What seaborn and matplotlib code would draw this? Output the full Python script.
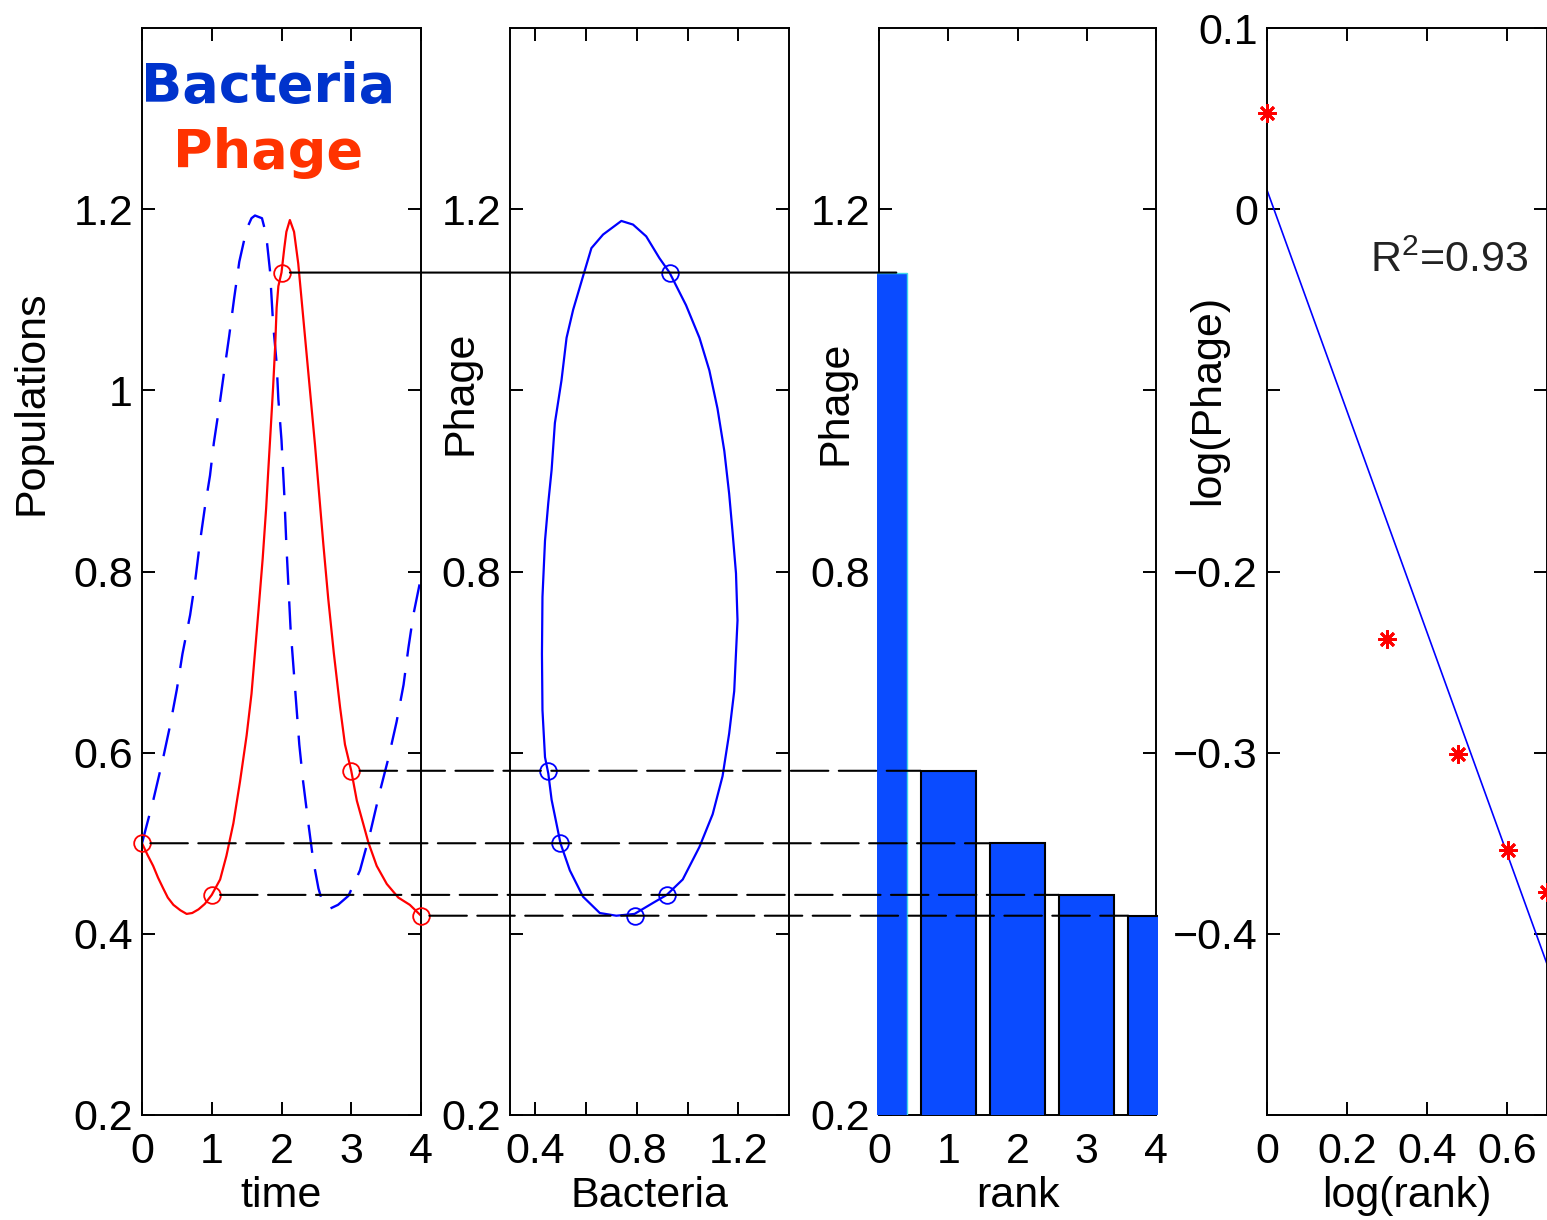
import numpy as np
import pandas as pd
import matplotlib
matplotlib.use("Agg")
import matplotlib.pyplot as plt
import seaborn as sns
from matplotlib.patches import ConnectionPatch, Rectangle

# ---------------- data ----------------
t_bact = [0.00, 0.16, 0.30, 0.40, 0.50, 0.58, 0.69, 0.76, 0.83, 0.90, 0.975, 1.03, 1.11,
          1.18, 1.25, 1.32, 1.395, 1.50, 1.57, 1.62, 1.72, 1.78, 1.835, 1.88, 1.93, 1.955,
          2.00, 2.04, 2.07, 2.10, 2.13, 2.17, 2.22, 2.255, 2.31, 2.385, 2.455, 2.53, 2.60,
          2.70, 2.81, 2.96, 3.125, 3.27, 3.41, 3.53, 3.65, 3.75, 3.82, 3.89, 3.985, 4.00]
bact = [0.500, 0.547, 0.593, 0.629, 0.670, 0.709, 0.752, 0.788, 0.832, 0.870, 0.906, 0.942, 0.983,
        1.022, 1.060, 1.101, 1.142, 1.178, 1.190, 1.193, 1.190, 1.172, 1.132, 1.073, 1.030, 0.990,
        0.945, 0.885, 0.829, 0.783, 0.737, 0.696, 0.645, 0.609, 0.568, 0.522, 0.481, 0.450, 0.432,
        0.428, 0.432, 0.442, 0.470, 0.511, 0.557, 0.593, 0.634, 0.675, 0.716, 0.752, 0.788, 0.795]

t_phage = [0.00, 0.08, 0.16, 0.23, 0.305, 0.37, 0.45, 0.55, 0.64, 0.72, 0.81, 0.90, 1.00, 1.12,
           1.21, 1.31, 1.405, 1.50, 1.57, 1.62, 1.67, 1.73, 1.78, 1.81, 1.845, 1.88, 1.91, 1.93,
           1.955, 2.00, 2.04, 2.07, 2.12, 2.18, 2.24, 2.30, 2.36, 2.42, 2.48, 2.54, 2.60, 2.67,
           2.75, 2.84, 2.91, 3.00, 3.08, 3.17, 3.245, 3.365, 3.51, 3.675, 3.84, 4.00]
phage = [0.500, 0.487, 0.475, 0.462, 0.450, 0.440, 0.432, 0.426, 0.422, 0.423, 0.427, 0.433, 0.443, 0.460,
         0.486, 0.522, 0.568, 0.619, 0.665, 0.711, 0.757, 0.814, 0.870, 0.911, 0.957, 1.004, 1.050, 1.091,
         1.115, 1.130, 1.157, 1.175, 1.188, 1.175, 1.140, 1.090, 1.040, 0.990, 0.940, 0.885, 0.830, 0.770,
         0.710, 0.650, 0.609, 0.580, 0.547, 0.522, 0.501, 0.475, 0.455, 0.440, 0.432, 0.420]

loop_bact = [0.499, 0.536, 0.588, 0.654, 0.719, 0.791, 0.863, 0.918, 0.981, 1.047, 1.099, 1.138,
             1.164, 1.184, 1.197, 1.191, 1.177, 1.164, 1.145, 1.118, 1.086, 1.047, 0.994, 0.929,
             0.889, 0.837, 0.785, 0.739, 0.667, 0.621, 0.588, 0.549, 0.523, 0.503, 0.477, 0.464,
             0.451, 0.438, 0.428, 0.426, 0.428, 0.438, 0.451, 0.464, 0.499]
loop_phage = [0.500, 0.470, 0.441, 0.423, 0.420, 0.422, 0.434, 0.443, 0.460, 0.496, 0.532, 0.574,
              0.621, 0.668, 0.746, 0.798, 0.845, 0.886, 0.933, 0.980, 1.022, 1.058, 1.094, 1.130,
              1.146, 1.170, 1.183, 1.187, 1.172, 1.157, 1.126, 1.089, 1.058, 1.011, 0.964, 0.912,
              0.876, 0.834, 0.772, 0.709, 0.647, 0.595, 0.577, 0.548, 0.500]

mark_t = [0, 1, 2, 3, 4]
mark_phage = [0.500, 0.443, 1.130, 0.580, 0.420]
mark_bact = [0.499, 0.918, 0.929, 0.451, 0.791]

rank = [0, 1, 2, 3, 4]
rank_phage = [1.130, 0.580, 0.500, 0.443, 0.420]
rank_time = [2, 3, 0, 1, 4]

log_rank = [0.000, 0.301, 0.477, 0.602, 0.699]
log_phage = [0.053, -0.237, -0.301, -0.354, -0.377]
r2_label = "R$^2$=0.93"

# ---------------- style ----------------
sns.set_theme(style="ticks")
plt.rcParams.update({
    "xtick.direction": "in", "ytick.direction": "in",
    "xtick.top": True, "ytick.right": True,
    "axes.linewidth": 1.4, "axes.edgecolor": "black",
    "xtick.color": "black", "ytick.color": "black",
    "axes.labelcolor": "black", "text.color": "black",
    "mathtext.default": "regular",
})
plt.rcParams["font.family"] = ["Liberation Sans", "DejaVu Sans"]

FS = 31
BLUE = "#0000ff"
RED = "#ff0000"
BAR = "#0a4bff"

W, H = 1547, 1220
fig = plt.figure(figsize=(W / 100, H / 100), dpi=100)


def axpos(left, right, top=28, bottom=1115):
    return [left / W, 1 - bottom / H, (right - left) / W, (bottom - top) / H]


ax1 = fig.add_axes(axpos(142, 421))
ax2 = fig.add_axes(axpos(510, 789))
ax3 = fig.add_axes(axpos(879, 1156))
ax4 = fig.add_axes(axpos(1267, 1547))

for ax in (ax1, ax2, ax3, ax4):
    ax.tick_params(axis="both", which="both", direction="in", top=True, right=True,
                   length=9.5, width=1.4, labelsize=FS)
    ax.tick_params(axis="y", pad=6.5)
    ax.tick_params(axis="x", pad=12)
    for s in ax.spines.values():
        s.set_linewidth(1.4)
        s.set_color("black")

yt = [0.2, 0.4, 0.6, 0.8, 1.0, 1.2]

# ---------------- panel 1: time series ----------------
sns.lineplot(x=t_bact, y=bact, ax=ax1, sort=False, estimator=None, color=BLUE,
             lw=1.7, linestyle=(0, (12, 7)))
sns.lineplot(x=t_phage, y=phage, ax=ax1, sort=False, estimator=None, color=RED, lw=1.6)
ax1.plot(mark_t, mark_phage, "o", mfc="none", mec=RED, ms=12, mew=1.3, clip_on=False, zorder=5)
ax1.set_xlim(0, 4)
ax1.set_ylim(0.2, 1.4)
ax1.set_xticks([0, 1, 2, 3, 4])
ax1.set_xticklabels(["0", "1", "2", "3", "4"])
ax1.set_yticks(yt)
ax1.set_yticklabels(["0.2", "0.4", "0.6", "0.8", "1", "1.2"])
ax1.set_xlabel("time", fontsize=FS, labelpad=3)
ax1.set_ylabel("Populations", fontsize=FS)
ax1.yaxis.set_label_coords(-0.323, 0.655)

# ---------------- panel 2: phase plane ----------------
sns.lineplot(x=loop_bact, y=loop_phage, ax=ax2, sort=False, estimator=None, color=BLUE, lw=1.6)
ax2.plot(mark_bact, mark_phage, "o", mfc="none", mec=BLUE, ms=12, mew=1.3, zorder=5)
ax2.set_xlim(0.3, 1.4)
ax2.set_ylim(0.2, 1.4)
ax2.set_xticks([0.4, 0.6, 0.8, 1.0, 1.2])
ax2.set_xticklabels(["0.4", "", "0.8", "", "1.2"])
ax2.set_yticks(yt)
ax2.set_yticklabels(["0.2", "", "", "0.8", "", "1.2"])
ax2.set_xlabel("Bacteria", fontsize=FS, labelpad=3)
ax2.set_ylabel("Phage", fontsize=FS)
ax2.yaxis.set_label_coords(-0.1075, 0.664)

# ---------------- panel 3: ranked bars ----------------
sns.barplot(x=rank, y=rank_phage, ax=ax3, width=0.8, color=BAR, saturation=1,
            edgecolor="black", linewidth=1.5)
clip = Rectangle((-0.006, 0.0), 1.012, 1.004, transform=ax3.transAxes)
for i, p in enumerate(ax3.patches):
    p.set_zorder(3)
    p.set_clip_path(clip)
    if i == 0:
        p.set_edgecolor("#3fd8e8")
        p.set_linewidth(1.0)
ax3.set_xlim(0, 4)
ax3.set_ylim(0.2, 1.4)
ax3.set_xticks([0, 1, 2, 3, 4])
ax3.set_xticklabels(["0", "1", "2", "3", "4"])
ax3.set_yticks(yt)
ax3.set_yticklabels(["0.2", "", "", "0.8", "", "1.2"])
ax3.set_xlabel("rank", fontsize=FS, labelpad=3)
ax3.set_ylabel("Phage", fontsize=FS)
ax3.yaxis.set_label_coords(-0.0866, 0.655)

# ---------------- panel 4: log-log fit ----------------
ax4.set_xlim(0, 0.7)
ax4.set_ylim(-0.5, 0.1)
sns.regplot(x=log_rank, y=log_phage, ax=ax4, scatter=False, ci=None, truncate=False,
            line_kws=dict(color=BLUE, lw=1.2))
ax4.plot(log_rank, log_phage, linestyle="none", marker=(8, 2, 0), ms=13, mec=RED,
         mew=2.0, clip_on=False, zorder=5)
ax4.set_xlim(0, 0.7)
ax4.set_ylim(-0.5, 0.1)
ax4.set_xticks([0, 0.2, 0.4, 0.6])
ax4.set_xticklabels(["0", "0.2", "0.4", "0.6"])
ax4.set_yticks([-0.5, -0.4, -0.3, -0.2, -0.1, 0.0, 0.1])
ax4.set_yticklabels(["", "\u22120.4", "\u22120.3", "\u22120.2", "", "0", "0.1"])
ax4.set_xlabel("log(rank)", fontsize=FS, labelpad=3)
ax4.set_ylabel("log(Phage)", fontsize=FS)
ax4.yaxis.set_label_coords(-0.139, 0.658)
fig.text(1370 / W, 1 - 272 / H, r2_label, fontsize=FS, color="#222222",
         ha="left", va="baseline")

# ---------------- guide lines linking panels ----------------
for i in range(len(rank)):
    y = rank_phage[i]
    x_start = rank_time[i] + 0.12
    x_end = rank[i] - 0.4 if i > 0 else 0.25
    ls = "-" if i == 0 else (0, (18, 5))
    con = ConnectionPatch(xyA=(x_start, y), coordsA=ax1.transData,
                          xyB=(x_end, y), coordsB=ax3.transData,
                          color="black", lw=1.5, linestyle=ls, zorder=6)
    fig.add_artist(con)

# ---------------- headline legend text ----------------
fig.text(268 / W, 1 - 102 / H, "Bacteria", fontsize=39, fontweight="bold",
         color="#0033cc", ha="center", va="baseline", family=["DejaVu Sans"])
fig.text(268 / W, 1 - 168 / H, "Phage", fontsize=39, fontweight="bold",
         color="#ff3300", ha="center", va="baseline", family=["DejaVu Sans"])

fig.savefig("out.png", dpi=100)
